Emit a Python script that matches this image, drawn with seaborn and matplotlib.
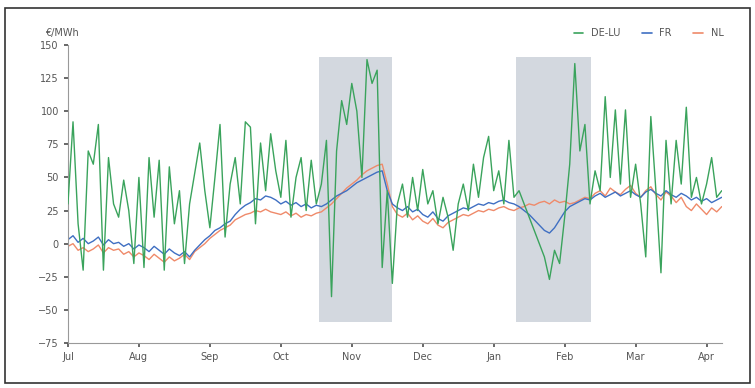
import numpy as np
import pandas as pd
import matplotlib
matplotlib.use("Agg")
import matplotlib.pyplot as plt
import seaborn as sns
from matplotlib.patches import Rectangle

# series values (one point per step)
green = [30, 92, 15, -20, 70, 60, 90, -20, 65, 30,
         20, 48, 25, -15, 50, -18, 65, 20, 63, -20,
         58, 15, 40, -15, 30, 53, 76, 40, 12, 50,
         90, 5, 45, 65, 30, 92, 88, 15, 76, 40,
         83, 55, 35, 78, 20, 50, 65, 25, 63, 30,
         45, 78, -40, 70, 108, 90, 121, 100, 50, 139,
         121, 131, -18, 40, -30, 30, 45, 20, 50, 25,
         56, 30, 40, 15, 35, 20, -5, 30, 45, 25,
         60, 35, 65, 81, 40, 55, 30, 78, 35, 40,
         30, 20, 10, 0, -10, -27, -5, -15, 20, 60,
         136, 70, 90, 30, 55, 40, 111, 50, 101, 45,
         101, 35, 60, 30, -10, 96, 40, -22, 78, 30,
         78, 45, 103, 35, 50, 30, 45, 65, 35, 40]

blue = [3, 6, 1, 4, 0, 2, 5, -1, 3, 0,
        1, -2, 0, -4, -1, -3, -6, -2, -5, -8,
        -4, -7, -9, -6, -10, -5, -1, 3, 6, 10,
        12, 15, 17, 22, 26, 29, 31, 34, 33, 36,
        35, 33, 30, 32, 29, 31, 28, 30, 27, 29,
        28, 30, 33, 36, 38, 40, 43, 46, 48, 50,
        52, 54, 55, 40, 30, 27, 25, 28, 24, 26,
        22, 20, 24, 19, 17, 21, 23, 25, 27, 26,
        28, 30, 29, 31, 30, 32, 33, 31, 30, 28,
        25, 22, 18, 14, 10, 8, 12, 18, 24, 28,
        30, 32, 34, 33, 36, 38, 35, 37, 39, 36,
        38, 40, 37, 35, 39, 41, 38, 36, 40, 37,
        35, 38, 36, 33, 35, 32, 34, 31, 33, 35]

orange = [-2, 0, -5, -3, -6, -4, -1, -7, -3, -5,
          -4, -8, -6, -10, -7, -9, -12, -8, -11, -14,
          -10, -13, -11, -8, -12, -6, -3, 0, 4, 7,
          10, 12, 14, 18, 20, 22, 23, 25, 24, 26,
          24, 23, 22, 24, 21, 23, 20, 22, 21, 23,
          24, 27, 30, 34, 38, 42, 45, 48, 52, 55,
          57, 59, 60, 45, 28, 22, 20, 23, 18, 21,
          17, 15, 19, 14, 12, 16, 18, 20, 22, 21,
          23, 25, 24, 26, 25, 27, 28, 26, 25, 27,
          28, 30, 29, 31, 32, 30, 33, 31, 32, 30,
          31, 33, 35, 34, 38, 40, 36, 42, 39, 37,
          41, 44, 38, 35, 40, 43, 37, 33, 39, 36,
          31, 35, 28, 25, 30, 26, 22, 27, 24, 28]

series_names = ["DE-LU", "FR", "NL"]
month_labels = ["Jul", "Aug", "Sep", "Oct", "Nov", "Dec", "Jan", "Feb", "Mar", "Apr"]
y_ticks = [150, 125, 100, 75, 50, 25, 0, -25, -50, -75]
shaded = [(49.6, 64.0), (88.4, 103.1)]

steps = np.arange(len(green))
df = pd.DataFrame({
    "step": np.tile(steps, 3),
    "value": green + blue + orange,
    "series": np.repeat(series_names, len(green)),
})

sns.set_theme(style="ticks")
plt.rcParams['font.family'] = ['DejaVu Sans']

fig = plt.figure(figsize=(7.55, 3.88), dpi=100)
ax = fig.add_axes([0.090, 0.116, 0.866, 0.768])

for a, b in shaded:
    ax.axvspan(a, b, ymin=0.07, ymax=0.96, color="#bcc3ce", alpha=0.65, lw=0, zorder=0)

palette = {"DE-LU": "#3aa35c", "FR": "#3f6fc2", "NL": "#ef8a6a"}
sns.lineplot(data=df, x="step", y="value", hue="series", palette=palette,
             hue_order=["NL", "FR", "DE-LU"], linewidth=1.0, ax=ax, legend=False)
# green line drawn on top
for line in ax.lines:
    if line.get_color() == "#3aa35c":
        line.set_zorder(3)

ax.set_xlim(0, 129)
ax.set_ylim(-75, 150)
ax.set_yticks(y_ticks)
ax.set_xticks(np.arange(0, 127, 14))
ax.set_xticklabels(month_labels)
ax.set_xlabel("")
ax.set_ylabel("")
ax.tick_params(axis="both", labelsize=7, colors="#555555", length=3)
sns.despine(ax=ax)
for s in ["left", "bottom"]:
    ax.spines[s].set_color("#999999")
    ax.spines[s].set_linewidth(0.8)

fig.text(0.060, 0.915, "€/MWh", fontsize=7, color="#555555", va="center")

handles = [plt.Line2D([], [], color=palette[n], lw=1.2) for n in series_names]
fig.legend(handles, series_names, loc="center right", bbox_to_anchor=(0.97, 0.915),
           ncol=3, frameon=False, fontsize=7, handlelength=1.0, columnspacing=2.2,
           labelcolor="#555555")

fig.add_artist(Rectangle((0.007, 0.013), 0.986, 0.966, transform=fig.transFigure,
                         fill=False, edgecolor="#333333", linewidth=1.2))

fig.savefig("out.png", dpi=100)
